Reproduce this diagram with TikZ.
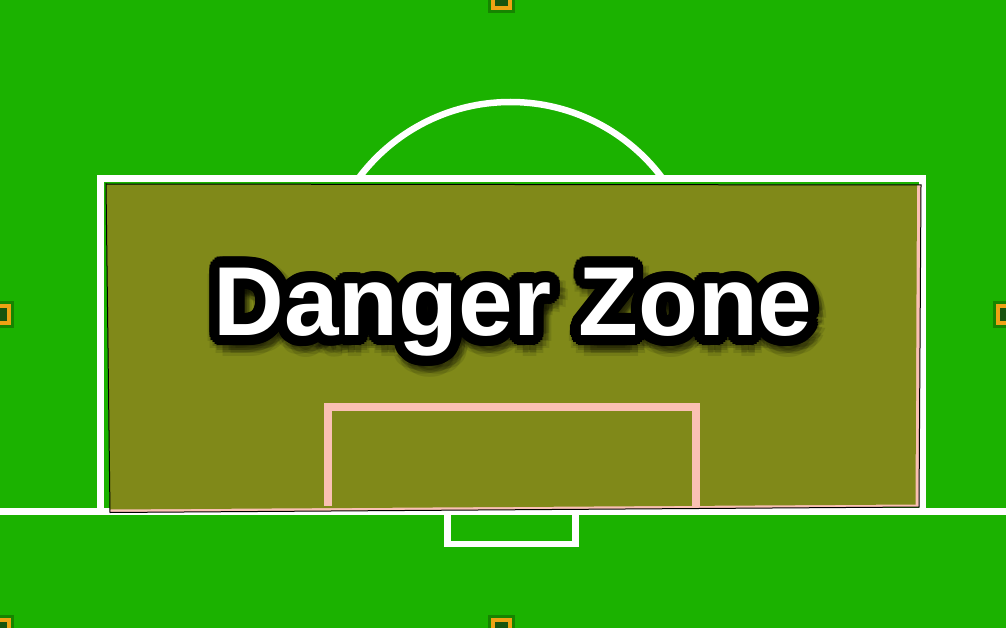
\documentclass[tikz,border=0pt]{standalone}
\usepackage{fontspec}
\setmainfont{Liberation Sans}
\usetikzlibrary{calc}
\definecolor{pitch}{RGB}{27,178,0}
\definecolor{zone}{RGB}{128,137,25}
\definecolor{zonepink}{RGB}{250,192,180}
\definecolor{mkhalo}{RGB}{22,132,0}
\definecolor{mkorange}{RGB}{238,162,20}
\definecolor{mkinner}{RGB}{24,84,14}
\tikzset{
  fieldline/.style={draw=white, line width=7pt},
  pinkline/.style={draw=zonepink, line width=8pt},
  dztext/.style={font=\fontsize{98}{98}\selectfont\bfseries, inner sep=0pt, anchor=base},
  mkhalo/.style={fill=mkhalo},
  mkring/.style={draw=mkorange, fill=mkinner, line width=4pt},
}
\begin{document}
\begin{tikzpicture}[x=1pt,y=-1pt]
\useasboundingbox (0,0) rectangle (1006,628);
\fill[pitch] (0,0) rectangle (1006,628);
% arc above the penalty box
\begin{scope}
  \clip (0,0) rectangle (1006,179);
  \draw[fieldline, line width=6.5pt] (510.5,291.5) circle[radius=189.5];
\end{scope}
% penalty box and goal line
\draw[fieldline] (100,511) -- (100,179) -- (922,179) -- (922,511);
\draw[fieldline] (0,511) -- (1006,511);
\draw[fieldline, line width=6.5pt] (447.5,511) -- (447.5,544) -- (575.5,544) -- (575.5,511);
% danger zone overlay
\fill[zonepink] (106,184) -- (921,185) -- (919,507) -- (110,512.5) -- cycle;
\fill[zone] (106,184) -- (917,185) -- (915.5,504.5) -- (110,509.5) -- cycle;
\draw[pinkline] (327.5,506) -- (327.5,406.5) -- (695.5,406.5) -- (695.5,506);
\draw[black, line width=1pt] (106,184) -- (921,185) -- (919,507) -- (110,512.5) -- cycle;
% text with soft shadow and round outline
\coordinate (tc) at (513,335);
\foreach \a in {0,30,...,330}{
  \node[dztext, text=black, opacity=0.10] (sa\a) at ($(tc)+(3,6)+(\a:15)$) {Danger Zone};
  \node[dztext, text=black, opacity=0.15] (sb\a) at ($(tc)+(3,5)+(\a:12)$) {Danger Zone};
}
\foreach \a in {0,15,...,345}{
  \node[dztext, text=black] (o\a) at ($(tc)+(\a:10.5)$) {Danger Zone};
}
\foreach \a in {0,45,...,315}{
  \node[dztext, text=black] (p\a) at ($(tc)+(\a:5.5)$) {Danger Zone};
}
\node[dztext, text=white] (title) at (tc) {Danger Zone};
% corner markers
\foreach \mx/\my in {501/0, 0/314, 1006/314, 501/628, 0/628}{
  \fill[mkhalo] (\mx-13.5,\my-13.5) rectangle (\mx+13.5,\my+13.5);
  \draw[mkring] (\mx-8.5,\my-8.5) rectangle (\mx+8.5,\my+8.5);
}
\end{tikzpicture}
\end{document}
